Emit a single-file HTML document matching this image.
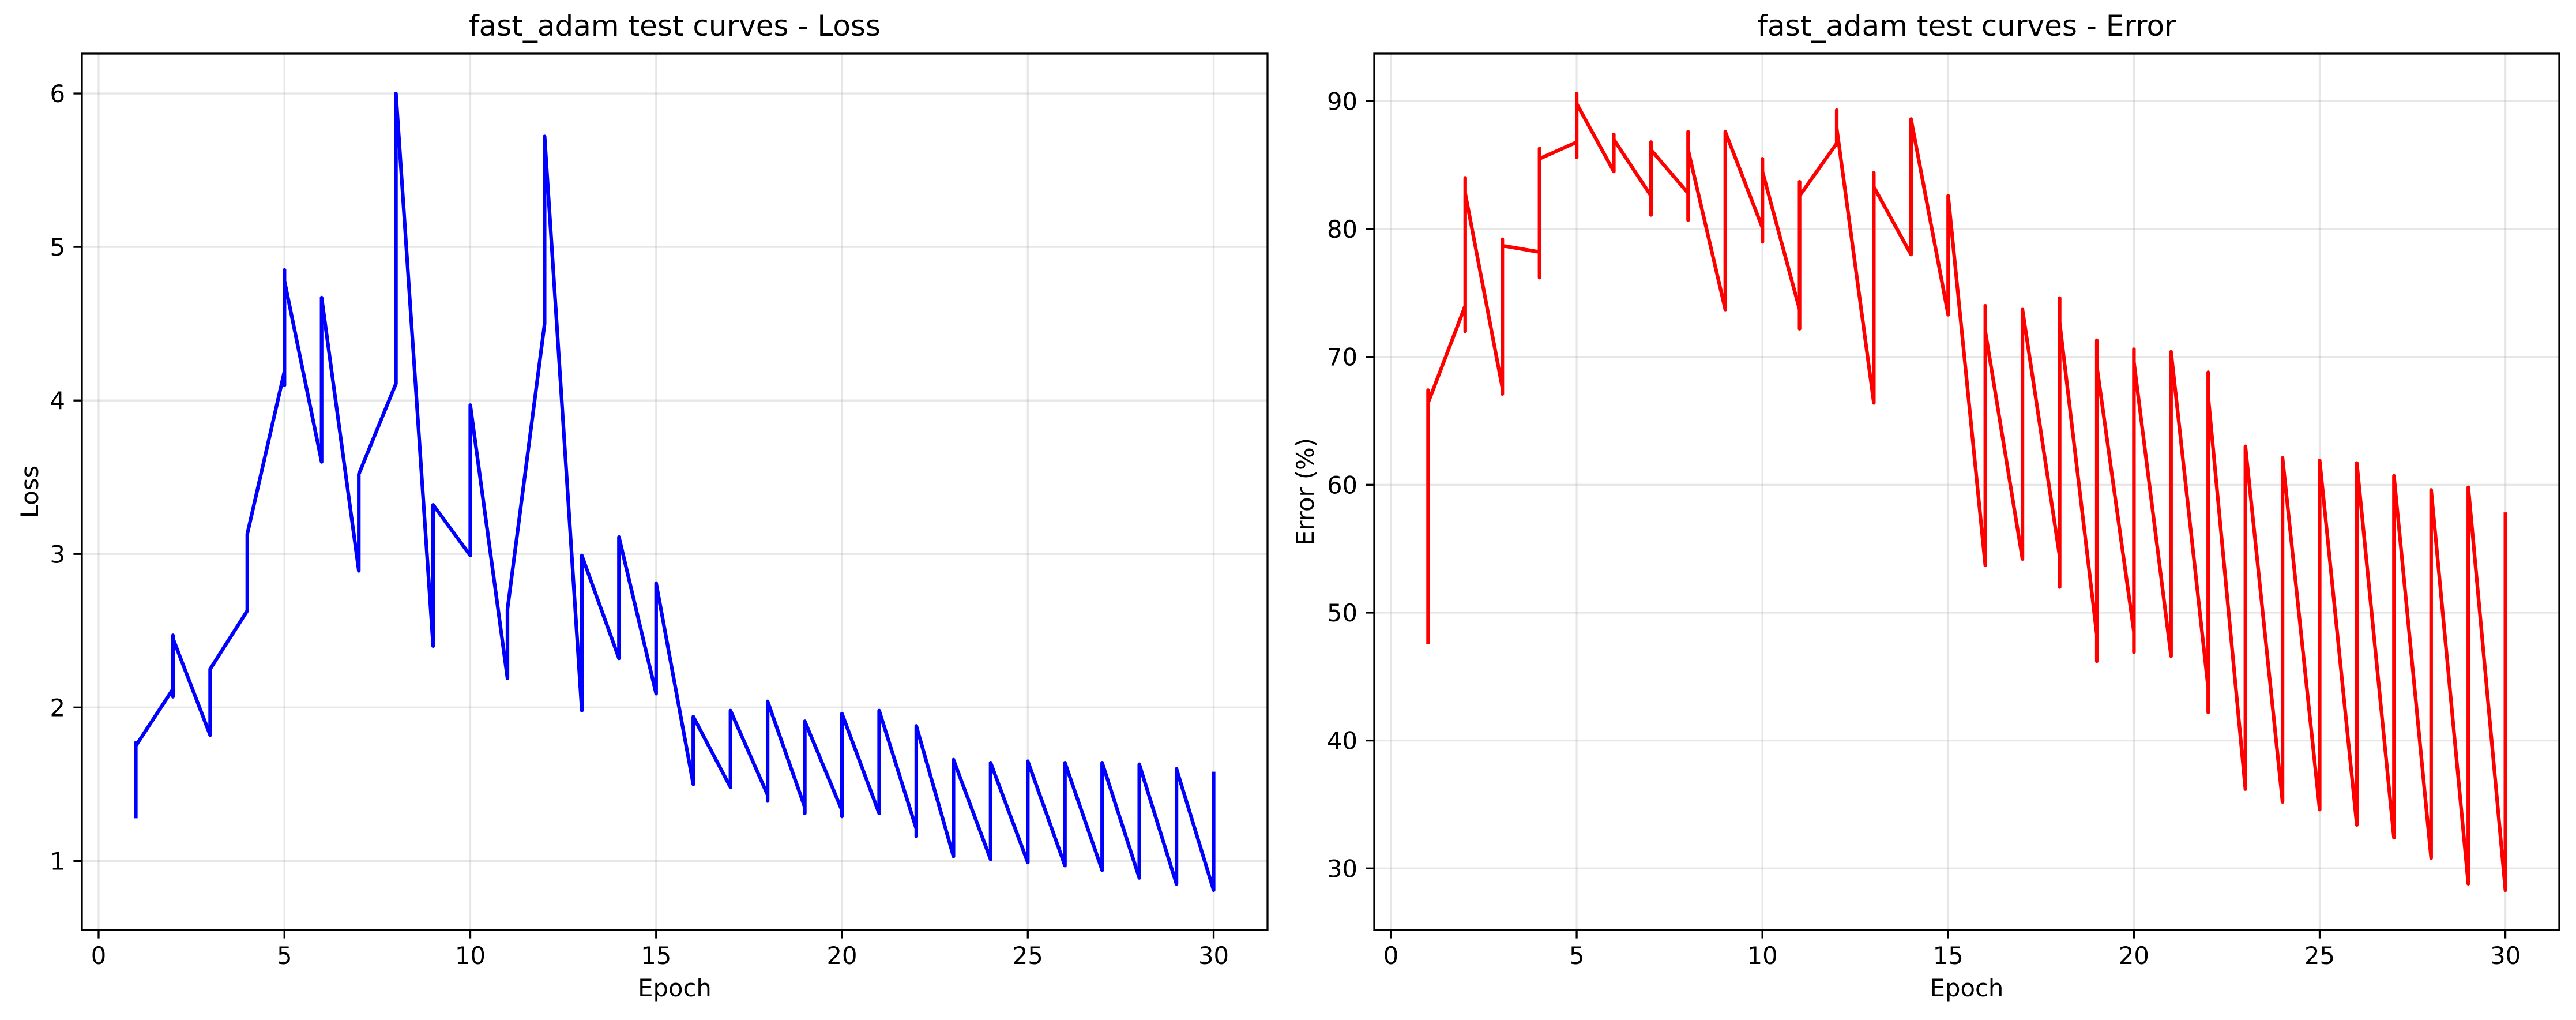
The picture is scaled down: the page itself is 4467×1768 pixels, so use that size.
<!DOCTYPE html>
<html><head><meta charset="utf-8"><style>
html,body{margin:0;padding:0;background:#fff}
svg{display:block;font-family:"DejaVu Sans","Liberation Sans",sans-serif}
</style></head><body>
<svg id="chart" width="4467" height="1768" viewBox="0 0 4467 1768" xmlns="http://www.w3.org/2000/svg">
<rect width="4467" height="1768" fill="#fff"/>
</svg>
<script>
const lossEpochs = [1,2,3,4,5,6,7,8,9,10,11,12,13,14,15,16,17,18,19,20,21,22,23,24,25,26,27,28,29,30];
const lossValues = [
 [1.29,1.77,1.75],[2.12,2.07,2.47,2.45],[1.82,2.25],[2.63,3.13],[4.19,4.10,4.85,4.78],
 [3.60,4.67],[2.89,3.52],[4.11,6.0],[2.40,3.32],[2.99,3.97],
 [2.19,2.64],[4.50,5.72],[1.98,2.99],[2.32,3.11],[2.09,2.81],
 [1.50,1.94],[1.48,1.98],[1.43,1.39,2.04],[1.35,1.31,1.91],[1.33,1.29,1.96],
 [1.31,1.98],[1.21,1.16,1.88],[1.03,1.66],[1.01,1.64],[0.99,1.65],
 [0.97,1.64],[0.94,1.64],[0.89,1.63],[0.85,1.60],[0.81,1.57]
];
const errorEpochs = lossEpochs;
const errorValues = [
 [47.7,67.4,66.4],[74.0,72.0,84.0,82.8],[67.6,67.1,79.2,78.7],[78.2,76.2,86.3,85.5],[86.8,85.6,90.6,89.8],
 [84.5,87.4,87.0],[82.6,81.1,86.8,86.2],[82.8,80.7,87.6,86.2],[73.7,87.6],[80.1,79.0,85.5,84.5],
 [73.7,72.2,83.7,82.6],[86.7,89.3,87.9],[66.4,84.4,83.3],[78.0,88.6],[73.3,82.6],
 [53.7,74.0,72.0],[54.2,73.7],[54.4,52.0,74.6,72.7],[48.3,46.2,71.3,69.3],[48.5,46.9,70.6,69.6],
 [46.6,70.4],[44.1,42.2,68.8,66.9],[36.2,63.0],[35.2,62.1],[34.6,61.9],
 [33.4,61.7],[32.4,60.7],[30.8,59.6],[28.8,59.8],[28.3,57.7]
];
const xTicks = [0,5,10,15,20,25,30];
const lossYTicks = [1,2,3,4,5,6];
const errorYTicks = [30,40,50,60,70,80,90];

const NS = "http://www.w3.org/2000/svg";
const svg = document.getElementById('chart');
function mk(tag, attrs, parent){const e=document.createElementNS(NS,tag);for(const k in attrs)e.setAttribute(k,attrs[k]);(parent||svg).appendChild(e);return e;}

function drawPanel(cfg){
  const {L,R,T,B,epochs,vals,yTicks,color,title,ylabel,ylabelX,prefix} = cfg;
  const g = mk('g',{});
  
  
  const xmin=Math.min(...epochs), xmax=Math.max(...epochs);
  const flat=vals.flat(); const ymin=Math.min(...flat), ymax=Math.max(...flat);
  const xm=(xmax-xmin)*0.05, ym=(ymax-ymin)*0.05;
  const x0=xmin-xm, x1=xmax+xm, y0=ymin-ym, y1=ymax+ym;
  const sx=v=>L+(v-x0)/(x1-x0)*(R-L);
  const sy=v=>B-(v-y0)/(y1-y0)*(B-T);
  xTicks.forEach(t=>{
    const l=mk('line',{x1:sx(t),x2:sx(t),y1:T,y2:B,stroke:'#b0b0b0','stroke-opacity':0.3,'stroke-width':3.3},g);
    
    
  });
  yTicks.forEach(t=>{
    const l=mk('line',{x1:L,x2:R,y1:sy(t),y2:sy(t),stroke:'#b0b0b0','stroke-opacity':0.3,'stroke-width':3.3},g);
    
    
  });
  let d='';
  epochs.forEach((e,i)=>{vals[i].forEach(v=>{d+=(d?'L':'M')+sx(e).toFixed(1)+' '+sy(v).toFixed(1);});});
  const p=mk('path',{d:d,fill:'none',stroke:color,'stroke-width':6.25,'stroke-linejoin':'round','stroke-linecap':'square'},g);
  
  
  const r=mk('rect',{x:L,y:T,width:R-L,height:B-T,fill:'none',stroke:'#000','stroke-width':3.3},g);
  
  
  xTicks.forEach(t=>{
    mk('line',{x1:sx(t),x2:sx(t),y1:B,y2:B+14.6,stroke:'#000','stroke-width':3.3},g);
    const tx=mk('text',{x:sx(t),y:1671,'text-anchor':'middle','font-size':41.7,fill:'#000'},g);
    tx.textContent=t;
    
    
  });
  yTicks.forEach(t=>{
    mk('line',{x1:L-14.6,x2:L,y1:sy(t),y2:sy(t),stroke:'#000','stroke-width':3.3},g);
    const tx=mk('text',{x:L-29,y:sy(t)+15,'text-anchor':'end','font-size':41.7,fill:'#000'},g);
    tx.textContent=t;
    
    
  });
  const ti=mk('text',{x:(L+R)/2,y:62,'text-anchor':'middle','font-size':50,fill:'#000'},g);
  ti.textContent=title;
  
  
  const xl=mk('text',{x:(L+R)/2,y:1727,'text-anchor':'middle','font-size':41.7,fill:'#000'},g);
  xl.textContent='Epoch';
  
  
  const cy=(T+B)/2;
  const yl=mk('text',{x:ylabelX,y:cy,'text-anchor':'middle','font-size':41.7,fill:'#000',transform:`rotate(-90 ${ylabelX} ${cy})`},g);
  yl.textContent=ylabel;
  
  
}
drawPanel({L:142,R:2198,T:93,B:1612,epochs:lossEpochs,vals:lossValues,yTicks:lossYTicks,color:'#0000ff',title:'fast_adam test curves - Loss',ylabel:'Loss',ylabelX:66,prefix:'loss'});
drawPanel({L:2383,R:4438,T:93,B:1612,epochs:errorEpochs,vals:errorValues,yTicks:errorYTicks,color:'#ff0000',title:'fast_adam test curves - Error',ylabel:'Error (%)',ylabelX:2278,prefix:'error'});
</script>
</body></html>
